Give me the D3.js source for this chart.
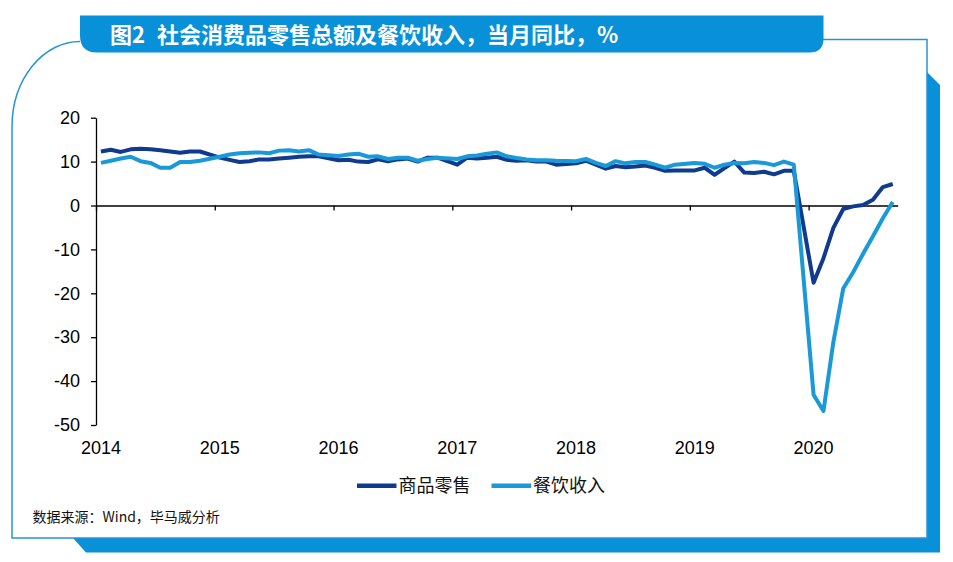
<!DOCTYPE html>
<html><head><meta charset="utf-8">
<script src="https://cdn.jsdelivr.net/npm/d3@7"></script>
<style>body{margin:0;background:#fff} svg{display:block}</style>
</head><body>
<svg id="c" width="953" height="562"></svg>
<script>
const titleMain = "图2";
const titleRest = "社会消费品零售总额及餐饮收入，当月同比，%";
const sourceText = "数据来源：Wind，毕马威分析";
const seriesNames = ["商品零售", "餐饮收入"];
const yearLabels = ["2014","2015","2016","2017","2018","2019","2020"];
const yTicks = [20,10,0,-10,-20,-30,-40,-50];
// Monthly periods (Jan-Feb reported together at Feb)
const periods = [
 "2014-02","2014-03","2014-04","2014-05","2014-06","2014-07","2014-08","2014-09","2014-10","2014-11","2014-12",
 "2015-02","2015-03","2015-04","2015-05","2015-06","2015-07","2015-08","2015-09","2015-10","2015-11","2015-12",
 "2016-02","2016-03","2016-04","2016-05","2016-06","2016-07","2016-08","2016-09","2016-10","2016-11","2016-12",
 "2017-02","2017-03","2017-04","2017-05","2017-06","2017-07","2017-08","2017-09","2017-10","2017-11","2017-12",
 "2018-02","2018-03","2018-04","2018-05","2018-06","2018-07","2018-08","2018-09","2018-10","2018-11","2018-12",
 "2019-02","2019-03","2019-04","2019-05","2019-06","2019-07","2019-08","2019-09","2019-10","2019-11","2019-12",
 "2020-02","2020-03","2020-04","2020-05","2020-06","2020-07","2020-08","2020-09","2020-10"
];
const goodsRetail = [
 12.3,12.7,12.2,12.8,12.9,12.8,12.6,12.3,12.0,12.3,12.3,
 10.9,10.4,9.9,10.1,10.5,10.5,10.7,10.9,11.1,11.2,11.2,
 10.3,10.4,10.0,9.9,10.5,10.1,10.5,10.7,10.0,10.9,10.9,
 9.3,10.9,10.7,10.9,11.1,10.4,10.2,10.3,10.0,10.0,9.3,
 9.6,10.2,9.3,8.4,9.0,8.7,8.9,9.1,8.6,7.9,8.0,
 8.0,8.6,7.0,8.5,10.0,7.5,7.4,7.7,7.1,7.9,7.9,
 -17.6,-12.0,-5.1,-0.8,-0.2,0.1,1.3,4.2,4.9
];
const catering = [
 9.7,10.2,10.7,11.1,10.1,9.7,8.6,8.6,9.9,9.9,10.2,
 11.1,11.6,11.9,12.0,12.1,11.9,12.5,12.6,12.3,12.6,11.6,
 11.3,11.6,11.8,11.1,11.2,10.6,10.9,10.9,10.2,10.6,10.9,
 10.6,11.2,11.4,11.8,12.1,11.2,10.8,10.5,10.3,10.3,10.2,
 10.1,10.6,9.7,9.0,10.1,9.6,9.9,9.9,9.3,8.6,9.3,
 9.7,9.5,8.6,9.3,9.7,9.6,9.9,9.7,9.2,10.0,9.3,
 -43.1,-46.8,-31.1,-18.9,-15.2,-11.0,-7.0,-2.9,0.8
];
const colors = ["#0F3A8E", "#1A99D9"];
const blue = "#0890D8";

const svg = d3.select("#c");
const latin = "'Liberation Sans', Arial, sans-serif";
const cjk = "'Noto Sans CJK SC', sans-serif";

// shadow
svg.append("path")
  .attr("d","M73,538 L927,538 L927,72 L940,85 L940,552.5 L86,552.5 Z")
  .attr("fill", blue);
// frame
svg.append("path")
  .attr("d","M80,41.5 A68,85.5 0 0 0 12,127 L12,538 L927,538 L927,39.5 L815,39.5")
  .attr("fill","none").attr("stroke","#2A93D6").attr("stroke-width",1.5);
// title bar
svg.append("path")
  .attr("d","M80,15.5 H823.5 V38.5 Q823.5,52.5 809.5,52.5 H97 Q80,52.5 80,35.5 Z")
  .attr("fill", blue);
const tt = svg.append("text").attr("x",110).attr("y",42.8)
  .attr("fill","#fff").attr("font-family",cjk).attr("font-weight","bold").attr("font-size",22);
tt.append("tspan").text(titleMain);
tt.append("tspan").attr("dx",12).text(titleRest);

// scales
const monthIndex = p => { const [yy,m] = p.split("-").map(Number); return (yy-2014)*12 + (m-2) + 0.5; };
const x = d3.scaleLinear().domain([0,81]).range([96,897.7]);
const y = d3.scaleLinear().domain([-50,20]).range([425,117.7]);

// y axis
const ya = svg.append("g").attr("transform","translate(96,0)")
  .call(d3.axisLeft(y).tickValues(yTicks).tickSize(5).tickSizeOuter(0).tickPadding(11).tickFormat(d=>String(d)));
ya.selectAll("path,line").attr("stroke","#000").attr("stroke-width",1.3);
ya.selectAll("text").attr("font-family",latin).attr("font-size",18).attr("fill","#000");

// x axis at zero
const xa = svg.append("g").attr("transform",`translate(0,${y(0)})`)
  .call(d3.axisBottom(x).tickValues(d3.range(0,73,12)).tickSize(5).tickSizeOuter(0).tickFormat(""));
xa.selectAll("path,line").attr("stroke","#000").attr("stroke-width",1.3);

svg.append("g").selectAll("text").data(yearLabels).join("text")
  .attr("x",(d,i)=>x(i*12+0.5)).attr("y",454)
  .attr("text-anchor","middle").attr("font-family",latin).attr("font-size",18).attr("fill","#000")
  .text(d=>d);

// lines
const series = [goodsRetail, catering];
const line = d3.line().x(d=>x(monthIndex(d.p))).y(d=>y(d.v));
series.forEach((vals,si)=>{
  svg.append("path")
    .datum(periods.map((p,i)=>({p, v: vals[i]})))
    .attr("d", line).attr("fill","none").attr("stroke",colors[si])
    .attr("stroke-width",4).attr("stroke-linejoin","round").attr("stroke-linecap","butt");
});

// legend
const legX = [357, 491.5];
seriesNames.forEach((n,i)=>{
  svg.append("line").attr("x1",legX[i]).attr("x2",legX[i]+39.5).attr("y1",485.7).attr("y2",485.7)
    .attr("stroke",colors[i]).attr("stroke-width",4.5);
  svg.append("text").attr("x",legX[i]+41.5).attr("y",491.8)
    .attr("font-family",cjk).attr("font-size",18).attr("fill","#111").text(n);
});

// source
svg.append("text").attr("x",32.5).attr("y",522).attr("font-family",cjk).attr("font-size",14)
  .attr("fill","#111").text(sourceText);
</script>
</body></html>
